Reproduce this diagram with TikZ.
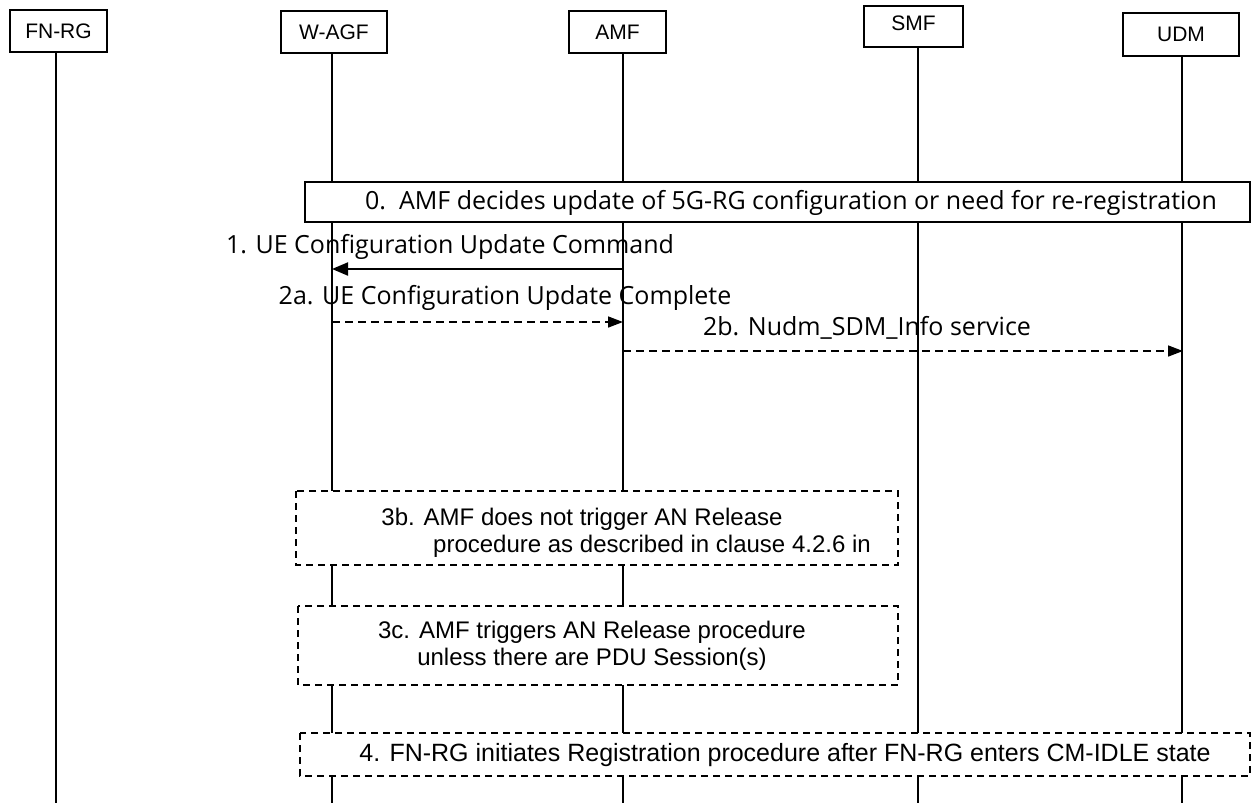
\documentclass[tikz,border=0pt]{standalone}
\usepackage{fontspec}
\setmainfont{Liberation Sans}
\newfontfamily\msgfont{Open Sans}
\usetikzlibrary{arrows.meta}
\tikzset{
  hdr/.style={draw, line width=1.2pt, minimum height=42pt, inner sep=0pt, font=\fontsize{21}{24}\selectfont},
  life/.style={line width=1.2pt},
  solidbox/.style={draw, line width=1.2pt, fill=white},
  dashbox/.style={draw, line width=1.2pt, fill=white, dash pattern=on 7pt off 5pt},
  boxtext/.style={font=\fontsize{24}{28}\selectfont, inner sep=0pt},
  msgtext/.style={font=\msgfont\fontsize{25}{28}\selectfont, inner sep=0pt},
  msg/.style={line width=2pt, -{Triangle[length=16pt,width=13pt]}},
  dmsg/.style={line width=1.6pt, dash pattern=on 8pt off 5pt, -{Triangle[length=15pt,width=11pt]}},
}
\begin{document}
\begin{tikzpicture}[x=1pt,y=-1pt]
\useasboundingbox (0,0) rectangle (1251,809);
% headers
\node[hdr, minimum width=97pt] (fnrg) at (58.5,31) {FN-RG};
\node[hdr, minimum width=106pt] (wagf) at (334,32) {W-AGF};
\node[hdr, minimum width=97pt] (amf) at (617.5,32) {AMF};
\node[hdr, minimum width=99pt, minimum height=41pt] (smf) at (913.5,26.5) {\raisebox{6pt}{SMF}};
\node[hdr, minimum width=116pt, minimum height=43pt] (udm) at (1181,34.5) {UDM};
% lifeline ends
\coordinate (fnrgE) at (56,803);
\coordinate (wagfE) at (332,803);
\coordinate (amfE) at (623,803);
\coordinate (smfE) at (918,803);
\coordinate (udmE) at (1182,803);
\draw[life] (fnrg.south -| fnrgE) -- (fnrgE);
\draw[life] (wagf.south -| wagfE) -- (wagfE);
\draw[life] (amf.south -| amfE) -- (amfE);
\draw[life] (smf.south -| smfE) -- (smfE);
\draw[life] (udm.south -| udmE) -- (udmE);
% step 0
\draw[solidbox] (305,182) rectangle (1250,222);
\node[msgtext] (s0) at (791,203) {0.\ \ AMF decides update of 5G-RG configuration or need for re-registration};
% step 1
\coordinate (a1s) at (623,269);
\coordinate (a1e) at (332,269);
\draw[msg] (a1s) -- (a1e);
\node[msgtext] (l1) at (450,247) {1. UE Configuration Update Command};
% step 2a
\coordinate (a2s) at (332,322);
\coordinate (a2e) at (623,322);
\draw[dmsg] (a2s) -- (a2e);
\node[msgtext] (l2a) at (505,298) {2a. UE Configuration Update Complete};
% step 2b
\coordinate (a3s) at (623,351);
\coordinate (a3e) at (1183,351);
\draw[dmsg] (a3s) -- (a3e);
\node[msgtext] (l2b) at (867,328) {2b. Nudm\_SDM\_Info service};
% step 3b
\draw[dashbox] (296,491) rectangle (898,565);
\node[boxtext] (t3b1) at (582,519) {3b. AMF does not trigger AN Release};
\node[boxtext] (t3b2) at (652,546) {procedure as described in clause 4.2.6 in};
% step 3c
\draw[dashbox] (298,606) rectangle (898,685);
\node[boxtext] (t3c1) at (592,632) {3c. AMF triggers AN Release procedure};
\node[boxtext] (t3c2) at (592,659) {unless there are PDU Session(s)};
% step 4
\draw[dashbox] (300,733) rectangle (1250,776);
\node[boxtext, font=\fontsize{25}{28}\selectfont] (t4) at (785,755) {4. FN-RG initiates Registration procedure after FN-RG enters CM-IDLE state};
\end{tikzpicture}
\end{document}
